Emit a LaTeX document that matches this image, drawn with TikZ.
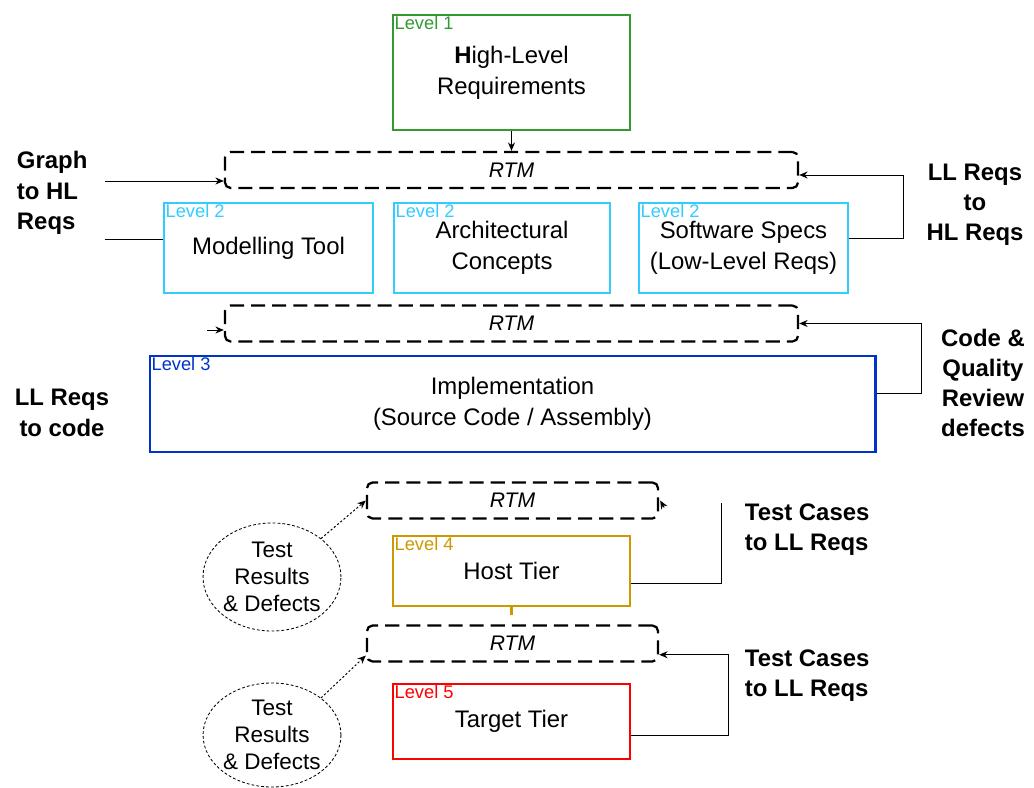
\documentclass[tikz,border=0pt]{standalone}
\usepackage{fontspec}
\setmainfont{Liberation Sans}
\usetikzlibrary{arrows.meta, positioning, calc, shapes.geometric}
\definecolor{lvlone}{HTML}{339933}
\definecolor{lvltwo}{HTML}{33CCFF}
\definecolor{lvlthree}{HTML}{0033CC}
\definecolor{lvlfour}{HTML}{CC9900}
\definecolor{lvlfive}{HTML}{FF0000}
\tikzset{
    level/.style={draw, line width=2pt, align=center, inner sep=0pt, font=\fontsize{17}{22}\selectfont},
    tag/.style={anchor=north west, inner sep=2pt, font=\fontsize{13}{15}\selectfont},
    rtm/.style={draw, dash pattern=on 10pt off 5pt, line width=1.6pt, rounded corners=4pt, minimum height=0.9cm, font=\fontsize{15}{18}\selectfont\itshape},
    link/.style={-{Stealth[length=6pt, width=5pt]}, line width=0.7pt},
    plain/.style={line width=0.7pt}
}

\begin{document}
\begin{tikzpicture}[
  x=0.025cm, y=-0.025cm,
  res/.style={ellipse, draw, line width=0.6pt, dash pattern=on 2pt off 1.5pt, minimum width=3.4cm, align=center, inner sep=0pt, font=\fontsize{16}{19}\selectfont},
  side/.style={align=center, font=\fontsize{17}{21.5}\selectfont\bfseries},
  dotlink/.style={link, dash pattern=on 1.5pt off 1.5pt}
]
\useasboundingbox (0,0) rectangle (1034,788);

% Level boxes
\node[level, draw=lvlone, minimum width=5.925cm, minimum height=2.875cm] (hlr) at (511.5,72.5) {\textbf{H}igh-Level\\Requirements};
\node[level, draw=lvltwo, minimum width=5.225cm, minimum height=2.25cm] (mt) at (268.5,248) {Modelling Tool};
\node[level, draw=lvltwo, minimum width=5.4cm, minimum height=2.25cm] (ac) at (502,248) {Architectural\\Concepts};
\node[level, draw=lvltwo, minimum width=5.225cm, minimum height=2.25cm] (ss) at (743.5,248) {Software Specs\\(Low-Level Reqs)};
\node[level, draw=lvlthree, minimum width=18.125cm, minimum height=2.4cm] (impl) at (512.5,404) {Implementation\\(Source Code / Assembly)};
\node[level, draw=lvlfour, minimum width=5.925cm, minimum height=1.75cm] (host) at (511.5,571) {Host Tier};
\node[level, draw=lvlfive, minimum width=5.925cm, minimum height=1.875cm] (target) at (511.5,721.5) {Target Tier};

% Level tags
\node[tag, text=lvlone] (hlrtag) at (hlr.north west) {Level 1};
\node[tag, text=lvltwo] (mttag) at (mt.north west) {Level 2};
\node[tag, text=lvltwo] (actag) at (ac.north west) {Level 2};
\node[tag, text=lvltwo] (sstag) at (ss.north west) {Level 2};
\node[tag, text=lvlthree] (impltag) at (impl.north west) {Level 3};
\node[tag, text=lvlfour] (hosttag) at (host.north west) {Level 4};
\node[tag, text=lvlfive] (targettag) at (target.north west) {Level 5};

% RTM boxes
\node[rtm, minimum width=14.325cm] (rtm1) at (511.5,170) {RTM};
\node[rtm, minimum width=14.325cm] (rtm2) at (511.5,323.5) {RTM};
\node[rtm, minimum width=7.275cm] (rtm3) at (512.5,500.5) {RTM};
\node[rtm, minimum width=7.275cm] (rtm4) at (512.5,643.5) {RTM};

% Test results
\node[res, minimum height=2.7cm] (tr1) at (272,577) {Test\\Results\\\& Defects};
\node[res, minimum height=2.6cm] (tr2) at (272,735) {Test\\Results\\\& Defects};

% Side labels
\node[side, anchor=west, align=left] (graphlbl) at (12,193) {Graph\\to HL\\Reqs};
\node[side] (llhl) at (975,205) {LL Reqs\\to\\HL Reqs};
\node[side] (llcode) at (62,413) {LL Reqs\\to code};
\node[side] (cqr) at (983,383) {Code \&\\Quality\\Review\\defects};
\node[side, anchor=west, align=left] (tcone) at (740,530) {Test Cases\\to LL Reqs};
\node[side, anchor=west, align=left] (tctwo) at (740,676) {Test Cases\\to LL Reqs};

% Free ends
\coordinate (gin) at (105,181);
\coordinate (gout) at (105,239);
\coordinate (stub) at (207,330);
\coordinate (hup) at (721,503);

% Lines into the first RTM
\draw[link] (hlr.south) -- (rtm1.north);
\draw[link] (gin) -- (gin -| rtm1.west);
\draw[plain] (gout) -- (gout -| mt.west);
\draw[link] ([yshift=0.25cm]ss.east) -- ++(54,0) |- ([yshift=-0.125cm]rtm1.east);

% Lines into the second RTM
\draw[link] (stub) -- (stub -| rtm2.west);
\draw[link] ([yshift=0.275cm]impl.east) -- ++(45,0) |- (rtm2.east);

% Test tiers
\draw[plain] ([yshift=-0.3cm]host.east) -| (hup);
\draw[link] ($(rtm3.east)+(5,7)$) -- ($(rtm3.east)+(1,0)$);
\draw[line width=2pt, lvlfour] (host.south) -- ++(0,8);
\draw[link] ([yshift=-0.35cm]target.east) -- ++(97,0) |- ([yshift=-0.28cm]rtm4.east);
\draw[dotlink] (tr1.north east) -- (rtm3.west);
\draw[dotlink] (tr2.north east) -- ([yshift=-0.3cm]rtm4.west);
\end{tikzpicture}
\end{document}
